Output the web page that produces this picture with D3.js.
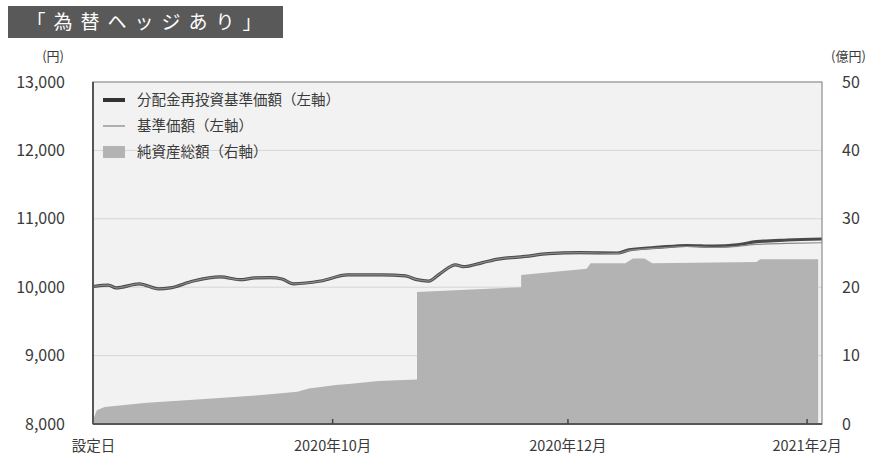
<!DOCTYPE html>
<html>
<head>
<meta charset="utf-8">
<script src="https://cdn.jsdelivr.net/npm/d3@7"></script>
<style>
	body { margin: 0; background: #fff; }
	text { font-family: "Noto Sans CJK JP", "Noto Sans", sans-serif; fill: #3a3a3a; }
</style>
</head>
<body>
<div class="js-graph"></div>
<script>
// 分配金再投資基準価額 (円)
var navReinvest = [
	['2020-07-31', 10010], ['2020-08-04', 10030], ['2020-08-06', 9990], ['2020-08-12', 10050],
	['2020-08-17', 9975], ['2020-08-20', 9990], ['2020-08-26', 10090], ['2020-09-02', 10150],
	['2020-09-07', 10110], ['2020-09-11', 10135], ['2020-09-15', 10140], ['2020-09-18', 10120],
	['2020-09-21', 10050], ['2020-09-28', 10090], ['2020-10-05', 10180], ['2020-10-14', 10180],
	['2020-10-20', 10165], ['2020-10-23', 10110], ['2020-10-26', 10090], ['2020-10-29', 10200],
	['2020-11-02', 10325], ['2020-11-04', 10300], ['2020-11-09', 10360], ['2020-11-13', 10410],
	['2020-11-20', 10450], ['2020-11-26', 10490], ['2020-12-04', 10505], ['2020-12-14', 10500],
	['2020-12-17', 10545], ['2020-12-25', 10585], ['2021-01-01', 10610], ['2021-01-08', 10600],
	['2021-01-14', 10620], ['2021-01-19', 10665], ['2021-01-27', 10690], ['2021-02-05', 10705]
];
// 基準価額 (円)
var nav = [
	['2020-07-31', 10010], ['2020-08-04', 10030], ['2020-08-06', 9990], ['2020-08-12', 10050],
	['2020-08-17', 9975], ['2020-08-20', 9990], ['2020-08-26', 10090], ['2020-09-02', 10150],
	['2020-09-07', 10110], ['2020-09-11', 10135], ['2020-09-15', 10140], ['2020-09-18', 10120],
	['2020-09-21', 10050], ['2020-09-28', 10090], ['2020-10-05', 10180], ['2020-10-14', 10180],
	['2020-10-20', 10165], ['2020-10-23', 10110], ['2020-10-26', 10090], ['2020-10-29', 10200],
	['2020-11-02', 10325], ['2020-11-04', 10300], ['2020-11-09', 10360], ['2020-11-13', 10410],
	['2020-11-20', 10450], ['2020-11-26', 10490], ['2020-12-04', 10505], ['2020-12-14', 10495],
	['2020-12-17', 10538], ['2020-12-25', 10575], ['2021-01-01', 10595], ['2021-01-08', 10582],
	['2021-01-14', 10598], ['2021-01-19', 10625], ['2021-01-27', 10640], ['2021-02-05', 10650]
];
// 純資産総額 (億円)
var netAssets = [
	['2020-07-31', 0.6], ['2020-08-01', 2.0], ['2020-08-03', 2.5], ['2020-08-14', 3.1],
	['2020-08-27', 3.6], ['2020-09-12', 4.2], ['2020-09-22', 4.7], ['2020-09-25', 5.2],
	['2020-10-02', 5.7], ['2020-10-06', 5.9], ['2020-10-13', 6.3], ['2020-10-23', 6.5],
	['2020-10-23', 19.3], ['2020-11-19', 20.0], ['2020-11-19', 21.8], ['2020-12-06', 22.7],
	['2020-12-07', 23.5], ['2020-12-16', 23.5], ['2020-12-18', 24.2], ['2020-12-21', 24.2],
	['2020-12-23', 23.5], ['2021-01-19', 23.7], ['2021-01-20', 24.1], ['2021-02-04', 24.1]
];
var leftTicks = [8000, 9000, 10000, 11000, 12000, 13000];
var rightTicks = [0, 10, 20, 30, 40, 50];
var xTicks = [['2020-07-31', '設定日'], ['2020-10-01', '2020年10月'], ['2020-12-01', '2020年12月'], ['2021-02-01', '2021年2月']];
var legendItems = ['分配金再投資基準価額（左軸）', '基準価額（左軸）', '純資産総額（右軸）'];

(function(d3) {
	var W = 877, H = 459,
		m = { left: 93, right: 822, top: 82, bottom: 424 },
		parse = d3.timeParse('%Y-%m-%d'),
		graph = d3.select('.js-graph').append('svg').attr('width', W).attr('height', H);

	var x = d3.scaleTime().domain([parse('2020-07-31'), parse('2021-02-05')]).range([m.left, m.right]),
		yL = d3.scaleLinear().domain([8000, 13000]).range([m.bottom, m.top]),
		yR = d3.scaleLinear().domain([0, 50]).range([m.bottom, m.top]);

	// title box
	graph.append('rect').attr('x', 8).attr('y', 6).attr('width', 275).attr('height', 32).attr('fill', '#595959');
	graph.append('text').attr('x', 148).attr('y', 29).attr('text-anchor', 'middle')
		.style('fill', '#fff').style('font-size', '19px').style('letter-spacing', '8px')
		.text('「為替ヘッジあり」');

	// plot background
	graph.append('rect').attr('x', m.left).attr('y', m.top)
		.attr('width', m.right - m.left).attr('height', m.bottom - m.top).attr('fill', '#f2f2f2');

	graph.selectAll('line.grid').data(leftTicks.slice(1, -1)).enter().append('line')
		.attr('class', 'grid')
		.attr('x1', m.left).attr('x2', m.right)
		.attr('y1', function(d) { return yL(d); }).attr('y2', function(d) { return yL(d); })
		.style('stroke', '#d6d6d6');

	// net assets area
	var area = d3.area()
		.x(function(d) { return x(parse(d[0])); })
		.y0(m.bottom)
		.y1(function(d) { return yR(d[1]); });
	graph.append('path').datum(netAssets).attr('d', area).attr('fill', '#b3b3b3');

	var line = d3.line()
		.x(function(d) { return x(parse(d[0])); })
		.y(function(d) { return yL(d[1]); })
		.curve(d3.curveMonotoneX);
	graph.append('path').datum(navReinvest).attr('d', line)
		.attr('fill', 'none').style('stroke', '#4a4a4a').style('stroke-width', 3.2);
	graph.append('path').datum(nav).attr('d', line)
		.attr('fill', 'none').style('stroke', '#8a8a8a').style('stroke-width', 1.2);

	// frame
	graph.append('rect').attr('x', m.left).attr('y', m.top)
		.attr('width', m.right - m.left).attr('height', m.bottom - m.top)
		.attr('fill', 'none').style('stroke', '#8c8c8c').style('stroke-width', 1.2);
	graph.append('line').attr('x1', m.left).attr('x2', m.left).attr('y1', m.top).attr('y2', m.bottom)
		.style('stroke', '#555').style('stroke-width', 2);
	graph.append('line').attr('x1', m.left).attr('x2', m.right).attr('y1', m.bottom).attr('y2', m.bottom)
		.style('stroke', '#555').style('stroke-width', 2);

	// axes
	var left = graph.append('g').attr('transform', 'translate(' + m.left + ',0)')
		.call(d3.axisLeft(yL).tickValues(leftTicks).tickFormat(d3.format(',')).tickSize(0).tickPadding(28));
	var right = graph.append('g').attr('transform', 'translate(' + m.right + ',0)')
		.call(d3.axisRight(yR).tickValues(rightTicks).tickSize(0).tickPadding(20));
	var bottom = graph.append('g').attr('transform', 'translate(0,' + m.bottom + ')')
		.call(d3.axisBottom(x).tickValues(xTicks.map(function(d) { return parse(d[0]); }))
			.tickFormat(function(d, i) { return xTicks[i][1]; }).tickSize(-5).tickPadding(17));
	[left, right, bottom].forEach(function(g) {
		g.select('.domain').remove();
		g.selectAll('text').style('font-size', '16px').style('fill', '#3a3a3a')
			.style('font-family', '"Noto Sans CJK JP", sans-serif');
		g.selectAll('line').style('stroke', '#444').style('stroke-width', 1.5);
	});
	bottom.selectAll('text').style('font-size', '14.5px');
	bottom.selectAll('.tick').filter(function(d, i) { return i === 0; }).select('line').remove();

	graph.append('text').attr('x', 64).attr('y', 61).attr('text-anchor', 'end').style('font-size', '13px').text('(円)');
	graph.append('text').attr('x', 831).attr('y', 61).style('font-size', '13px').text('(億円)');

	// legend
	var lg = graph.selectAll('g.legend').data(legendItems).enter().append('g')
		.attr('class', 'legend')
		.attr('transform', function(d, i) { return 'translate(103,' + (100 + i * 26) + ')'; });
	lg.filter(function(d, i) { return i === 0; }).append('line')
		.attr('x1', 0).attr('x2', 22).style('stroke', '#333').style('stroke-width', 4);
	lg.filter(function(d, i) { return i === 1; }).append('line')
		.attr('x1', 0).attr('x2', 22).style('stroke', '#999').style('stroke-width', 1.5);
	lg.filter(function(d, i) { return i === 2; }).append('rect')
		.attr('x', 0).attr('y', -6).attr('width', 22).attr('height', 12).attr('fill', '#b3b3b3');
	lg.append('text').attr('x', 34).attr('dy', '0.35em').style('font-size', '14.5px')
		.text(function(d) { return d; });
})(d3);
</script>
</body>
</html>
